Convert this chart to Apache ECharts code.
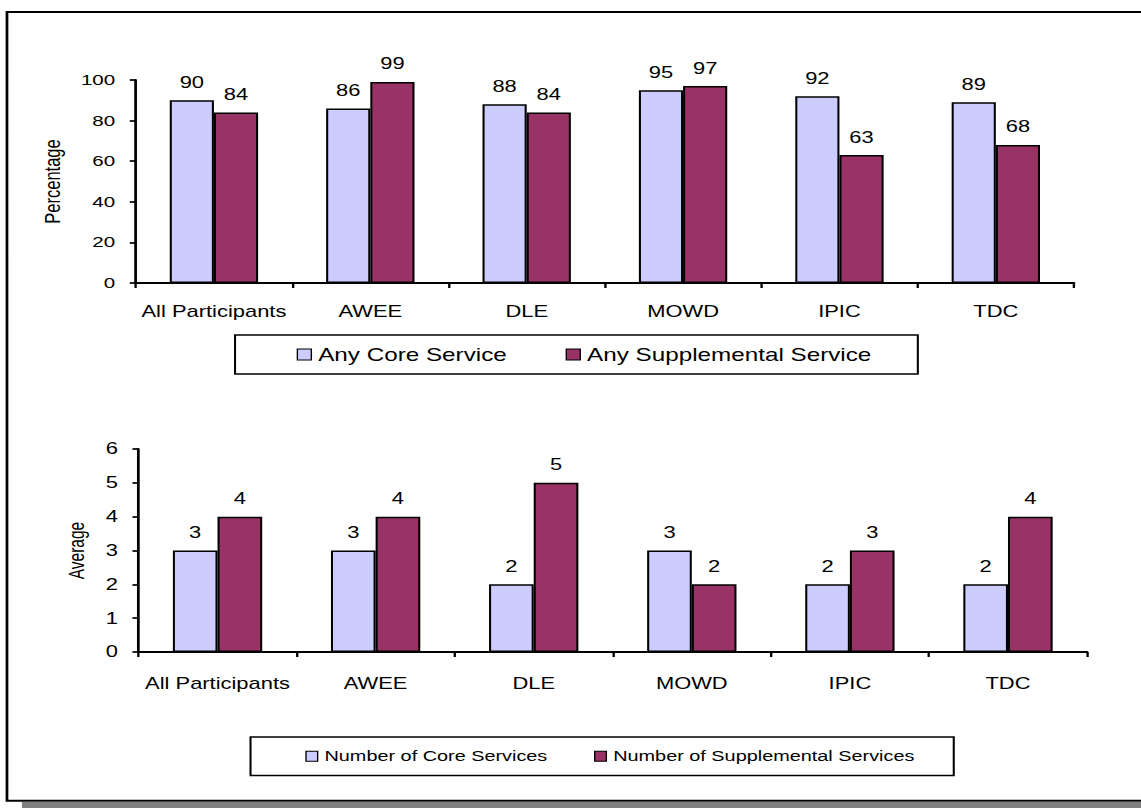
<!DOCTYPE html>
<html>
<head>
<meta charset="utf-8">
<script src="https://cdn.jsdelivr.net/npm/echarts/dist/echarts.min.js"></script>
<style>
  html, body { margin: 0; padding: 0; background: #ffffff; overflow: hidden; }
  #wrap { width: 1141px; height: 808px; overflow: hidden; position: relative; }
  #chart { width: 833px; height: 808px; transform: scaleX(1.36975); transform-origin: 0 0; }
</style>
</head>
<body>
<div id="wrap"><div id="chart"></div></div>
<script>
// ---- data ----
var categories = ['All Participants', 'AWEE', 'DLE', 'MOWD', 'IPIC', 'TDC'];
var anyCore = [90, 86, 88, 95, 92, 89];
var anySupplemental = [84, 99, 84, 97, 63, 68];
var numCore = [3, 3, 2, 3, 2, 2];
var numSupplemental = [4, 4, 5, 2, 3, 4];
var pctTicks = { min: 0, max: 100, interval: 20 };
var avgTicks = { min: 0, max: 6, interval: 1 };

var FONT = 'Liberation Sans, Arial, sans-serif';
var CORE_COLOR = '#CCCCFF';
var SUPP_COLOR = '#993366';

var chart = echarts.init(document.getElementById('chart'), null, { renderer: 'svg' });

function catAxis(gridIndex, margin) {
  return {
    type: 'category', gridIndex: gridIndex, data: categories,
    axisLine: { lineStyle: { color: '#000', width: 2 } },
    axisTick: { show: true, length: 5, lineStyle: { color: '#000', width: 1.7 } },
    axisLabel: { color: '#000', fontFamily: FONT, fontSize: 16, margin: margin, interval: 0 }
  };
}
function valAxis(gridIndex, t, name, nameGap, nameSize, labelSize) {
  return {
    type: 'value', gridIndex: gridIndex, min: t.min, max: t.max, interval: t.interval,
    name: name, nameLocation: 'middle', nameGap: nameGap,
    nameTextStyle: { color: '#000', fontFamily: FONT, fontSize: nameSize },
    axisLine: { show: true, lineStyle: { color: '#000', width: 2 } },
    axisTick: { show: true, length: 4.4, lineStyle: { color: '#000', width: 1.7 } },
    axisLabel: { color: '#000', fontFamily: FONT, fontSize: labelSize, margin: 15 },
    splitLine: { show: false }
  };
}
function barSeries(name, data, color, xi, yi) {
  return {
    name: name, type: 'bar', data: data, xAxisIndex: xi, yAxisIndex: yi,
    barGap: '0%', barCategoryGap: '43.5%',
    itemStyle: { color: color, borderColor: '#000', borderWidth: 1.5 },
    label: { show: true, position: 'top', distance: 10, color: '#000', fontFamily: FONT, fontSize: 16 },
    emphasis: { disabled: true }
  };
}

var option = {
  animation: false,
  backgroundColor: '#ffffff',
  graphic: [
    { type: 'rect', silent: true, shape: { x: 16, y: 802, width: 900, height: 6 }, style: { fill: '#808080' } },
    { type: 'rect', silent: true, shape: { x: 5.1, y: 12, width: 900, height: 788.7 }, style: { fill: 'none', stroke: '#000', lineWidth: 2 } }
  ],
  grid: [
    { left: 99.1, right: 48.9, top: 80, height: 203, containLabel: false },
    { left: 101.1, right: 39.4, top: 449, height: 203, containLabel: false }
  ],
  xAxis: [catAxis(0, 21), catAxis(1, 24)],
  yAxis: [
    valAxis(0, pctTicks, 'Percentage', 53, 16.5, 15),
    valAxis(1, avgTicks, 'Average', 37, 15.5, 16)
  ],
  legend: [
    {
      data: ['Any Core Service', 'Any Supplemental Service'],
      left: 171.6, top: 335, orient: 'horizontal',
      padding: [10.5, 34, 10.5, 45], itemGap: 43,
      itemWidth: 10.2, itemHeight: 11, icon: 'rect',
      borderColor: '#000', borderWidth: 1.5,
      itemStyle: { borderColor: '#000', borderWidth: 1 },
      textStyle: { color: '#000', fontFamily: FONT, fontSize: 17.7 },
      selectedMode: false
    },
    {
      data: ['Number of Core Services', 'Number of Supplemental Services'],
      left: 182.9, top: 737, orient: 'horizontal',
      padding: [11.75, 28.6, 11.75, 40], itemGap: 34,
      itemWidth: 8.5, itemHeight: 10, icon: 'rect',
      borderColor: '#000', borderWidth: 1.5,
      itemStyle: { borderColor: '#000', borderWidth: 1 },
      textStyle: { color: '#000', fontFamily: FONT, fontSize: 14.5 },
      selectedMode: false
    }
  ],
  series: [
    barSeries('Any Core Service', anyCore, CORE_COLOR, 0, 0),
    barSeries('Any Supplemental Service', anySupplemental, SUPP_COLOR, 0, 0),
    barSeries('Number of Core Services', numCore, CORE_COLOR, 1, 1),
    barSeries('Number of Supplemental Services', numSupplemental, SUPP_COLOR, 1, 1)
  ]
};
chart.setOption(option);
</script>
</body>
</html>
